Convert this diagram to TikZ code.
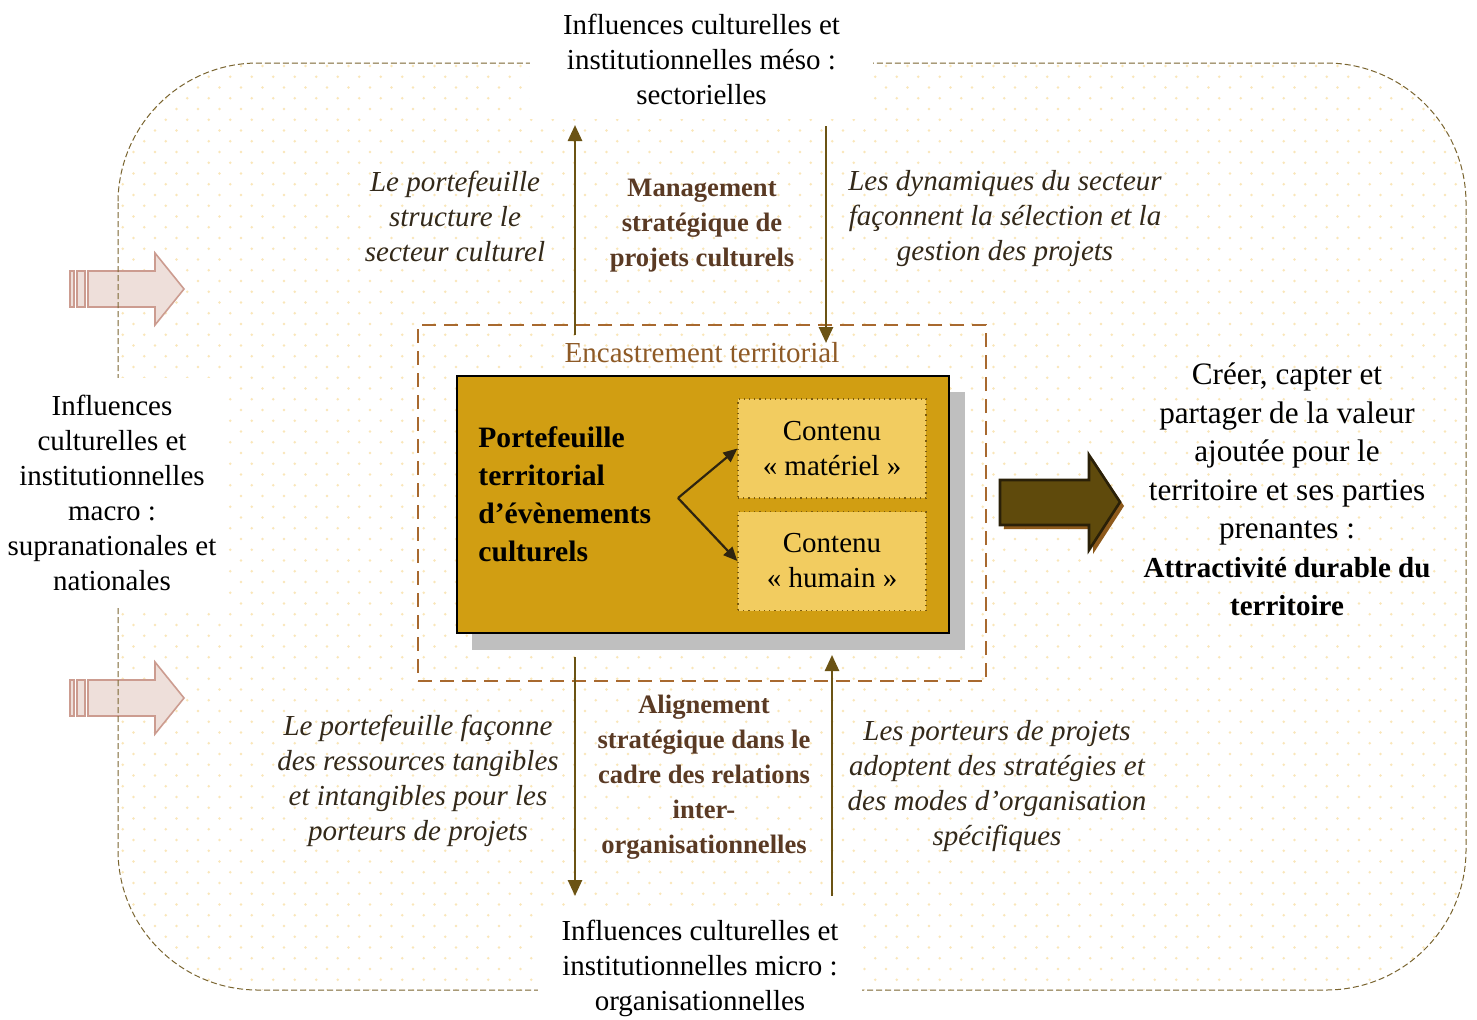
\documentclass[tikz,border=0pt]{standalone}
\usepackage{fontspec}
\setmainfont{Liberation Serif}
\usetikzlibrary{arrows.meta}
\definecolor{dotcol}{HTML}{FAE6B8}
\definecolor{bordcol}{HTML}{7A6530}
\definecolor{enccol}{HTML}{A8692F}
\definecolor{enctext}{HTML}{8E5A26}
\definecolor{goldfill}{HTML}{D19E12}
\definecolor{contfill}{HTML}{F2CC60}
\definecolor{contbord}{HTML}{7A5A10}
\definecolor{arrcol}{HTML}{6B5314}
\definecolor{mgmtcol}{HTML}{5A3A24}
\definecolor{itcol}{HTML}{33291A}
\definecolor{bigfill}{HTML}{5F4A0C}
\definecolor{bigbord}{HTML}{2A2008}
\definecolor{bigshadow}{HTML}{8E5A1C}
\definecolor{pinkfill}{HTML}{EEDFDA}
\definecolor{pinkbord}{HTML}{CC9C90}
\definecolor{innerarr}{HTML}{2E2410}
\newcommand\bodyfont{\fontsize{14.5}{17.5}\selectfont}
\newcommand\mgmtfont{\fontsize{13.3}{17.5}\selectfont}
\newcommand\bigfont{\fontsize{15.6}{19.25}\selectfont}
\newcommand\pffont{\fontsize{14.8}{19}\selectfont}
\begin{document}
\begin{tikzpicture}[x=0.5pt,y=-0.5pt,
  plain/.style={align=center, font=\bodyfont, inner sep=0pt},
  whitebox/.style={plain, fill=white},
  italabel/.style={align=center, font=\bodyfont\itshape, text=itcol, inner sep=0pt},
  mgmt/.style={align=center, font=\mgmtfont\bfseries, text=mgmtcol, inner sep=0pt},
  varrow/.style={draw=arrcol, line width=1.3pt, -{Triangle[width=7pt,length=8pt]}},
  inarrow/.style={draw=innerarr, line width=1.1pt, -{Triangle[width=6pt,length=7pt]}},
  contentbox/.style={draw=contbord, dotted, line width=0.6pt, fill=contfill, minimum width=94pt, minimum height=49.5pt, align=center, font=\bodyfont, inner sep=0pt},
  pinkarrow/.style={draw=pinkbord, fill=pinkfill, line width=0.8pt}
]
\useasboundingbox (0,0) rectangle (1477,1019);
\fill[white] (0,0) rectangle (1477,1019);

% dotted background
\begin{scope}
  \clip[rounded corners=70pt] (118,63) rectangle (1466,990);
  \foreach \r in {0,...,87} {
    \pgfmathsetmacro{\yy}{66+\r*10.75}
    \pgfmathsetmacro{\xo}{112+mod(\r,2)*10.75}
    \fill[dotcol] \foreach \c in {0,...,63} { ({\xo+\c*21.5},\yy) circle (0.65pt) };
  }
\end{scope}

% pink arrows (left)
\foreach \dy in {0,409} {
  \begin{scope}[yshift={-\dy*0.5pt}]
    \draw[pinkarrow] (70,271) rectangle (74,307);
    \draw[pinkarrow] (77,271) rectangle (85,307);
    \draw[pinkarrow] (88,271) -- (155,271) -- (155,253) -- (184,289) -- (155,325) -- (155,307) -- (88,307) -- cycle;
  \end{scope}
}

% outer dashed border
\draw[bordcol, line width=0.5pt, dash pattern=on 3pt off 1.5pt, rounded corners=70pt] (118,63) rectangle (1466,990);

% text boxes that cut the border
\node[whitebox, minimum width=171.5pt, minimum height=60pt] (meso) at (701.5,59)
  {Influences culturelles et\\institutionnelles méso :\\sectorielles};
\node[whitebox, minimum width=162pt, minimum height=56pt] (micro) at (700,968)
  {Influences culturelles et\\institutionnelles micro :\\organisationnelles};
\node[whitebox, minimum width=112pt, minimum height=115pt] (macro) at (112,493)
  {Influences\\culturelles et\\institutionnelles\\macro :\\supranationales et\\nationales};

% encastrement box
\node[draw=enccol, line width=1pt, dash pattern=on 7pt off 4pt, minimum width=284pt, minimum height=178pt, inner sep=0pt] (enc) at (702,503) {};
\node[plain, text=enctext] (enclabel) at (702,353) {Encastrement territorial};

% gold box with shadow
\fill[black!25] (472,392) rectangle (965,650);
\node[draw=black, line width=1pt, fill=goldfill, minimum width=246pt, minimum height=128.5pt, inner sep=0pt] (pf) at (703,504.5) {};
\node[anchor=west, align=left, font=\pffont\bfseries, inner sep=0pt] (pftext) at (478,494)
  {Portefeuille\\territorial\\d’évènements\\culturels};
\node[contentbox] (mat) at (832,448.5) {Contenu\\« matériel »};
\node[contentbox] (hum) at (832,561) {Contenu\\« humain »};
\coordinate (split) at (678,498);
\draw[inarrow] (split) -- (mat.west);
\draw[inarrow] (split) -- (hum.west);

% vertical arrows
\coordinate (a1s) at (575,335); \coordinate (a1e) at (575,125);
\coordinate (a2s) at (826,126); \coordinate (a2e) at (826,343);
\coordinate (a3s) at (575,657); \coordinate (a3e) at (575,896);
\coordinate (a4s) at (832,896); \coordinate (a4e) at (832,655);
\draw[varrow] (a1s) -- (a1e);
\draw[varrow] (a2s) -- (a2e);
\draw[varrow] (a3s) -- (a3e);
\draw[varrow] (a4s) -- (a4e);

% labels
\node[mgmt] (mgmt) at (702,226) {Management\\stratégique de\\projets culturels};
\node[mgmt] (align) at (704,777) {Alignement\\stratégique dans le\\cadre des relations\\inter-\\organisationnelles};
\node[italabel] (lp1) at (455,216) {Le portefeuille\\structure le\\secteur culturel};
\node[italabel] (dyn) at (1005,219) {Les dynamiques du secteur\\façonnent la sélection et la\\gestion des projets};
\node[italabel] (lp2) at (418,780.5) {Le portefeuille façonne\\des ressources tangibles\\et intangibles pour les\\porteurs de projets};
\node[italabel] (port) at (997,786.5) {Les porteurs de projets\\adoptent des stratégies et\\des modes d’organisation\\spécifiques};

% big right arrow
\fill[bigshadow] (1004,484) -- (1093,484) -- (1093,459) -- (1124,506) -- (1093,554) -- (1093,529) -- (1004,529) -- cycle;
\draw[draw=bigbord, fill=bigfill, line width=1.3pt, line join=miter] (1000,480) -- (1089,480) -- (1089,455) -- (1120,502) -- (1089,550) -- (1089,525) -- (1000,525) -- cycle;

% right text
\node[align=center, font=\bigfont, inner sep=0pt] (value) at (1287,489.5)
  {Créer, capter et\\partager de la valeur\\ajoutée pour le\\territoire et ses parties\\prenantes :\\{\fontsize{14.5}{19.25}\selectfont\bfseries Attractivité durable du}\\{\fontsize{14.5}{19.25}\selectfont\bfseries territoire}};
\end{tikzpicture}
\end{document}
